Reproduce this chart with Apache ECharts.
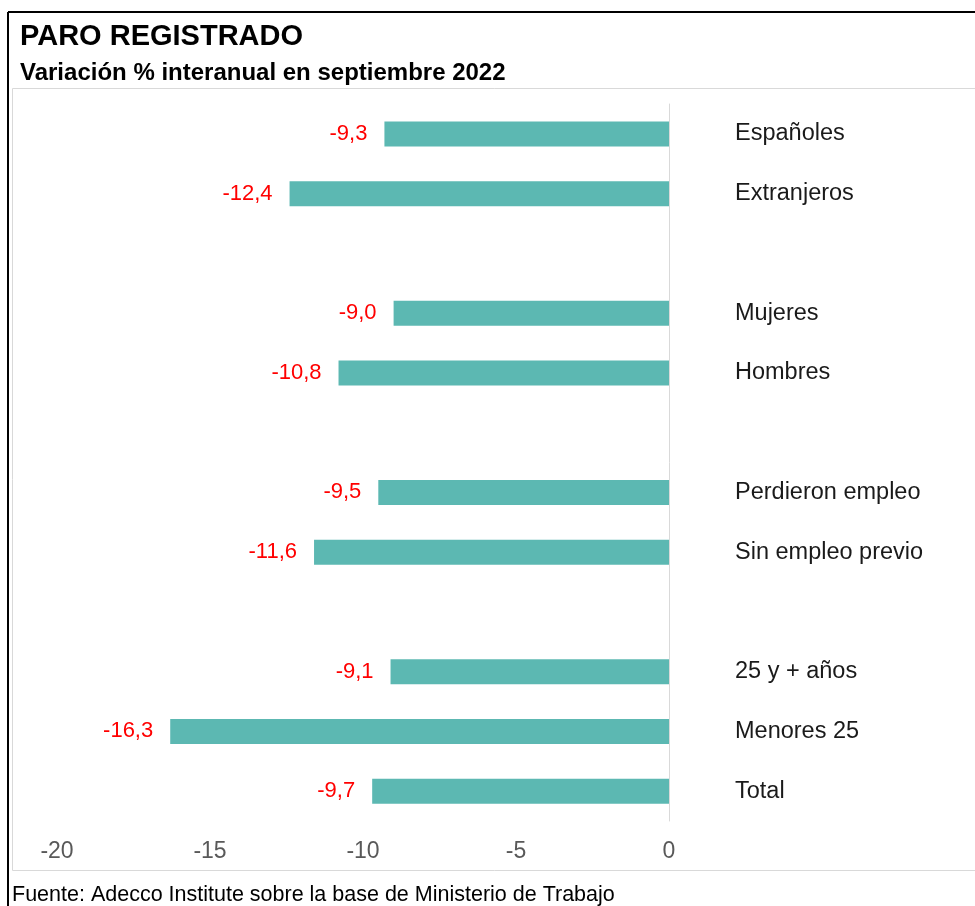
<!DOCTYPE html>
<html>
<head>
<meta charset="utf-8">
<script src="https://cdn.jsdelivr.net/npm/echarts@6/dist/echarts.min.js"></script>
<style>
  html, body { margin: 0; padding: 0; background: #fff; }
  #chart { width: 975px; height: 906px; }
</style>
</head>
<body>
<div id="chart"></div>
<script>
  // categorías (los huecos separan los grupos)
  const categories = ['Españoles', 'Extranjeros', ' ', 'Mujeres', 'Hombres', '  ',
    'Perdieron empleo', 'Sin empleo previo', '   ', '25 y + años', 'Menores 25', 'Total'];
  const values = [-9.3, -12.4, null, -9.0, -10.8, null, -9.5, -11.6, null, -9.1, -16.3, -9.7];
  const xTicks = [-20, -15, -10, -5, 0];

  const fontFamily = '"Liberation Sans", Arial, sans-serif';
  const chartObj = echarts.init(document.getElementById('chart'));

  chartObj.setOption({
    animation: false,
    textStyle: { fontFamily: fontFamily },
    title: [{
      text: 'PARO REGISTRADO',
      left: 15, top: 17,
      textStyle: { fontSize: 29, fontWeight: 'bold', color: '#000', fontFamily: fontFamily }
    }, {
      text: 'Variación % interanual en septiembre 2022',
      left: 15, top: 56,
      textStyle: { fontSize: 24, fontWeight: 'bold', color: '#000', fontFamily: fontFamily }
    }],
    graphic: [
      { type: 'line', shape: { x1: 8, y1: 12, x2: 975, y2: 12 }, style: { stroke: '#000', lineWidth: 2 } },
      { type: 'line', shape: { x1: 8, y1: 12, x2: 8, y2: 906 }, style: { stroke: '#000', lineWidth: 2 } },
      { type: 'rect', shape: { x: 12.5, y: 88.5, width: 980, height: 782 }, style: { fill: 'none', stroke: '#d9d9d9', lineWidth: 1 } },
      {
        type: 'text', left: 12, top: 884,
        style: { text: 'Fuente: Adecco Institute sobre la base de Ministerio de Trabajo', fontSize: 21.5, fill: '#000', fontFamily: fontFamily }
      }
    ],
    grid: { left: 57, right: 306, top: 104, bottom: 85, containLabel: false },
    xAxis: {
      type: 'value',
      min: xTicks[0],
      max: xTicks[xTicks.length - 1],
      interval: 5,
      axisLine: { show: false },
      axisTick: { show: false },
      splitLine: { show: false },
      axisLabel: { margin: 19, fontSize: 23, color: '#595959', fontFamily: fontFamily }
    },
    yAxis: {
      type: 'category',
      data: categories,
      inverse: true,
      position: 'right',
      axisLine: { show: true, lineStyle: { color: '#d9d9d9', width: 1 } },
      axisTick: { show: false },
      axisLabel: { margin: 66, align: 'left', fontSize: 23.5, color: '#1a1a1a', fontFamily: fontFamily }
    },
    series: [{
      type: 'bar',
      data: values,
      barWidth: 25,
      itemStyle: { color: '#5cb8b2' },
      label: {
        show: true,
        position: 'left',
        distance: 17,
        fontSize: 22,
        color: '#ff0000',
        fontFamily: fontFamily,
        formatter: p => p.value == null ? '' : p.value.toFixed(1).replace('.', ',')
      }
    }]
  });
</script>
</body>
</html>
